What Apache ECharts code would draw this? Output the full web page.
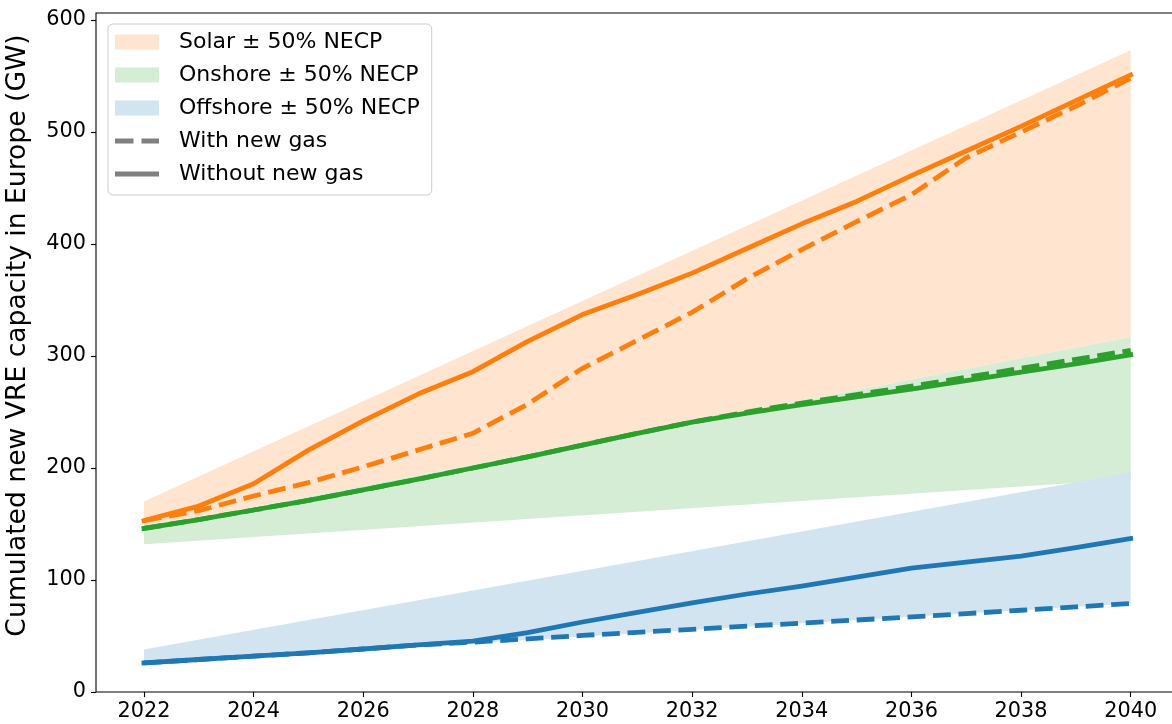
<!DOCTYPE html>
<html>
<head>
<meta charset="utf-8">
<script src="https://cdn.jsdelivr.net/npm/echarts@6/dist/echarts.min.js"></script>
<style>
  html, body { margin: 0; padding: 0; background: #fff; }
  #chart { width: 1172px; height: 724px; }
</style>
</head>
<body>
<div id="chart"></div>
<script>
// Yearly scenario results (GW of cumulated new VRE capacity)
const years = [2022, 2023, 2024, 2025, 2026, 2027, 2028, 2029, 2030, 2031,
               2032, 2033, 2034, 2035, 2036, 2037, 2038, 2039, 2040];

const solarWithoutGas    = [153, 166, 186, 216, 242, 266, 286, 313, 337, 355, 374, 396, 418, 438, 461, 483, 505, 528, 551];
const solarWithGas       = [153, 162, 175, 187, 201, 216, 231, 257, 289, 314, 339, 369, 395, 420, 444, 477, 500, 523, 548];
const onshoreWithoutGas  = [146, 154, 162.5, 171, 180.5, 190, 200, 210, 220.5, 231, 241, 249, 256.5, 263.5, 270.5, 278, 285.5, 293, 301];
const onshoreWithGas     = [146, 154, 162.5, 171, 180.5, 190, 200, 210, 220.5, 231, 241, 250, 258, 265.5, 273, 281, 289, 297, 305];
const offshoreWithoutGas = [26, 29, 32, 35, 38.4, 42, 45.5, 53, 62.5, 71, 79.5, 87.5, 94.6, 102.5, 110.7, 116, 121.4, 129, 137];
const offshoreWithGas    = [26, 29, 32, 35, 38.4, 42, 44.5, 47.5, 50.5, 53.3, 56, 58.8, 61.5, 64.3, 67, 70, 73, 76, 79];

// NECP ± 50% envelopes (straight between the end years)
const bandYears    = [2022, 2040];
const solarHigh    = [170, 573];
const onshoreHigh  = [146, 317];
const onshoreLow   = [132, 190];
const offshoreHigh = [38, 196];
const offshoreLow  = [26, 79];

const xTicks = [2022, 2024, 2026, 2028, 2030, 2032, 2034, 2036, 2038, 2040];
const yTicks = [0, 100, 200, 300, 400, 500, 600];

const legendNames = ['Solar ± 50% NECP', 'Onshore ± 50% NECP', 'Offshore ± 50% NECP', 'With new gas', 'Without new gas'];

const C = {
  orange: '#ff7f0e', green: '#2ca02c', blue: '#1f77b4',
  orangeFill: '#ffe5cf', greenFill: '#d5ecd5', blueFill: '#d2e4f0', gray: '#808080'
};
const FONT = 'DejaVu Sans';
const LW = 4.8;
const DASH = [17.8, 7.7];

function pairs(xs, ys) { return xs.map((x, i) => [x, ys[i]]); }

// filled envelope between a lower and an upper boundary
function band(name, low, high, color, z) {
  return {
    name: name, type: 'custom', z: z, silent: true,
    data: [[bandYears[0], low[0]]],
    itemStyle: { color: color },
    renderItem: function (params, api) {
      const pts = [];
      for (let i = 0; i < bandYears.length; i++) pts.push(api.coord([bandYears[i], high[i]]));
      for (let i = bandYears.length - 1; i >= 0; i--) pts.push(api.coord([bandYears[i], low[i]]));
      return { type: 'polygon', shape: { points: pts }, style: { fill: color, stroke: null } };
    }
  };
}

function curve(name, ys, color, dashed, z) {
  return {
    name: name, type: 'line', z: z, data: pairs(years, ys),
    symbol: 'none', silent: true,
    lineStyle: { color: color, width: LW, type: dashed ? DASH : 'solid', cap: dashed ? 'butt' : 'square', join: 'round' },
    itemStyle: { color: color }
  };
}

const series = [
  band(legendNames[0], onshoreHigh, solarHigh, C.orangeFill, 1),
  band(legendNames[1], onshoreLow, onshoreHigh, C.greenFill, 2),
  band(legendNames[2], offshoreLow, offshoreHigh, C.blueFill, 3),
  curve('solar with gas', solarWithGas, C.orange, true, 4),
  curve('solar without gas', solarWithoutGas, C.orange, false, 4),
  curve('onshore with gas', onshoreWithGas, C.green, true, 5),
  curve('onshore without gas', onshoreWithoutGas, C.green, false, 5),
  curve('offshore with gas', offshoreWithGas, C.blue, true, 6),
  curve('offshore without gas', offshoreWithoutGas, C.blue, false, 6),
  // legend-only style keys
  { name: legendNames[3], type: 'line', data: [], symbol: 'none', itemStyle: { color: C.gray } },
  { name: legendNames[4], type: 'line', data: [], symbol: 'none', itemStyle: { color: C.gray } }
];

const chart = echarts.init(document.getElementById('chart'), null, { renderer: 'canvas' });
chart.setOption({
  animation: false,
  backgroundColor: '#fff',
  textStyle: { fontFamily: FONT },
  grid: {
    left: 96, top: 13, right: -8, bottom: 32,
    outerBoundsMode: 'none', containLabel: false,
    show: true, borderColor: '#000', borderWidth: 1.1, backgroundColor: 'transparent', z: 10
  },
  xAxis: {
    type: 'value', min: 2021.125, max: 2040.9,
    splitLine: { show: false },
    axisLine: { show: false },
    axisTick: { show: true, length: 5, lineStyle: { color: '#000', width: 1.1 }, customValues: xTicks },
    axisLabel: { customValues: xTicks, margin: 9, color: '#000', fontSize: 20.8, fontFamily: FONT,
                 formatter: v => String(v) }
  },
  yAxis: {
    type: 'value', min: 0, max: 606.25,
    name: 'Cumulated new VRE capacity in Europe (GW)',
    nameLocation: 'middle', nameRotate: 90, nameGap: 64,
    nameTextStyle: { color: '#000', fontSize: 26.6, fontFamily: FONT, padding: [0, 0, 0, 34] },
    splitLine: { show: false },
    axisLine: { show: false },
    axisTick: { show: true, length: 5, lineStyle: { color: '#000', width: 1.1 }, customValues: yTicks },
    axisLabel: { customValues: yTicks, margin: 10, color: '#000', fontSize: 20.8, fontFamily: FONT }
  },
  legend: {
    orient: 'vertical', left: 108, top: 24, z: 20,
    padding: [7, 12, 10, 7],
    backgroundColor: '#fff', borderColor: '#cccccc', borderWidth: 1, borderRadius: 5,
    itemWidth: 44, itemHeight: 15, itemGap: 11,
    selectedMode: false,
    textStyle: { fontSize: 22, fontFamily: FONT, color: '#000', lineHeight: 22, padding: [0, 0, 0, 15] },
    data: [
      { name: legendNames[0], icon: 'rect', itemStyle: { color: C.orangeFill } },
      { name: legendNames[1], icon: 'rect', itemStyle: { color: C.greenFill } },
      { name: legendNames[2], icon: 'rect', itemStyle: { color: C.blueFill } },
      { name: legendNames[3], icon: 'path://M0,0H18.5V5H0Z M26.5,0H44V5H26.5Z', itemStyle: { color: C.gray } },
      { name: legendNames[4], icon: 'path://M0,0H44V5H0Z', itemStyle: { color: C.gray } }
    ]
  },
  series: series
});
</script>
</body>
</html>
